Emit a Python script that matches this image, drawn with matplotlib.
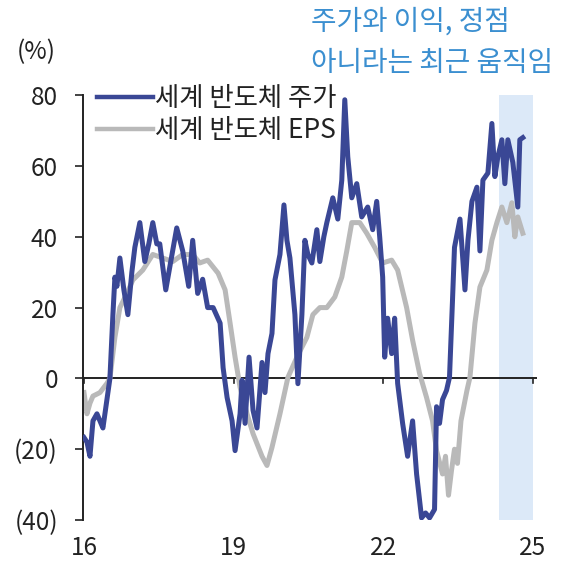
import matplotlib
matplotlib.use("Agg")
import matplotlib.pyplot as plt
from matplotlib.lines import Line2D

plt.rcParams['font.family'] = ['Noto Sans CJK KR', 'DejaVu Sans']

# World semiconductor stock index, YoY (%)
price_t = [2016.00, 2016.06, 2016.12, 2016.18, 2016.26, 2016.32, 2016.38, 2016.48, 2016.52,
           2016.58, 2016.62, 2016.66, 2016.72, 2016.80, 2016.88, 2016.96, 2017.02, 2017.12,
           2017.22, 2017.30, 2017.38, 2017.46, 2017.52, 2017.64, 2017.74, 2017.86, 2017.98,
           2018.10, 2018.18, 2018.28, 2018.38, 2018.48, 2018.59, 2018.73, 2018.79, 2018.87,
           2018.97, 2019.03, 2019.13, 2019.17, 2019.23, 2019.31, 2019.39, 2019.47, 2019.57,
           2019.63, 2019.69, 2019.77, 2019.83, 2019.93, 2020.01, 2020.07, 2020.13, 2020.23,
           2020.29, 2020.37, 2020.43, 2020.49, 2020.57, 2020.67, 2020.73, 2020.81, 2020.87,
           2020.99, 2021.09, 2021.17, 2021.23, 2021.29, 2021.37, 2021.47, 2021.57, 2021.69,
           2021.79, 2021.87, 2021.93, 2021.99, 2022.03, 2022.09, 2022.17, 2022.23, 2022.29,
           2022.39, 2022.49, 2022.59, 2022.67, 2022.77, 2022.85, 2022.93, 2023.03, 2023.07,
           2023.13, 2023.19, 2023.27, 2023.33, 2023.39, 2023.43, 2023.54, 2023.64, 2023.70,
           2023.78, 2023.88, 2023.94, 2024.00, 2024.10, 2024.18, 2024.24, 2024.30, 2024.38,
           2024.44, 2024.50, 2024.60, 2024.70, 2024.74, 2024.80]
price_yoy = [-16.7, -18, -22, -12, -10, -12, -14, -4, 0,
             18, 28.6, 26, 34, 25, 18, 30, 37, 44,
             33, 38, 44, 38, 38, 25, 33, 42.5, 36,
             26, 39, 24, 28, 20, 20, 15.6, 3, -5.4,
             -12, -20.4, -10, -0.5, -12.7, 6, -9, -14, 4.5,
             -4, 7, 12.7, 27.8, 35, 49, 39, 34, 18,
             -1.5, 18, 39, 35, 32.6, 42, 33, 40, 44,
             51, 45, 56, 78.7, 62.6, 51, 55, 45.6, 48.4,
             42, 50, 40, 28.6, 6, 17, 7, 17, -1.4,
             -12.7, -22, -12, -27, -39.4, -38, -39.4, -37, -8,
             -12.7, -6, -3.4, 0.3, 22, 37, 45, 25, 39,
             50, 54, 36, 56, 58, 72, 57, 62.6, 67.4,
             55, 67.4, 61, 48.4, 67.4, 68]

# World semiconductor EPS, YoY (%)
eps_t = [2016.00, 2016.06, 2016.12, 2016.18, 2016.32, 2016.46, 2016.52, 2016.62, 2016.72,
         2016.86, 2016.98, 2017.18, 2017.38, 2017.58, 2017.78, 2017.98, 2018.18, 2018.32,
         2018.48, 2018.69, 2018.83, 2018.93, 2019.03, 2019.13, 2019.27, 2019.39, 2019.57,
         2019.67, 2019.77, 2019.93, 2020.09, 2020.27, 2020.47, 2020.59, 2020.73, 2020.87,
         2021.03, 2021.17, 2021.27, 2021.37, 2021.53, 2021.67, 2021.83, 2021.99, 2022.17,
         2022.29, 2022.47, 2022.59, 2022.73, 2022.87, 2022.99, 2023.07, 2023.19, 2023.25,
         2023.31, 2023.37, 2023.43, 2023.49, 2023.56, 2023.68, 2023.74, 2023.84, 2023.94,
         2024.08, 2024.18, 2024.28, 2024.38, 2024.48, 2024.58, 2024.64, 2024.70, 2024.80]
eps_yoy = [-4, -10, -7, -5, -4, -1.4, 0, 11.6, 20,
           24, 27.8, 30.6, 35, 34, 33, 35, 35, 32.6,
           33.4, 29.7, 25, 15.6, 6, -2.5, -10, -15.6, -22,
           -24.6, -19.5, -10, 0.3, 6, 11.6, 18, 20, 20,
           23, 28.6, 36, 44, 44, 41, 37, 32.6, 33.4,
           30.6, 20, 10.8, 1.4, -5.4, -12, -20.4, -27, -22,
           -33, -26, -20, -24, -12, -3.4, 0.3, 15.6, 25.8,
           30.6, 39, 44, 48.4, 44, 49.6, 40, 45.6, 41]

series_names = ['세계 반도체 주가', '세계 반도체 EPS']
highlight = (2024.32, 2025.0)
x_ticks = [2016, 2019, 2022, 2025]
x_labels = ['16', '19', '22', '25']
y_ticks = [-40, -20, 0, 20, 40, 60, 80]
y_labels = ['(40)', '(20)', '0', '20', '40', '60', '80']
note = '주가와 이익, 정점\n아니라는 최근 움직임'

BLUE = '#3a4795'
GRAY = '#b9b9b9'
TEXT = '#222222'

fig = plt.figure(figsize=(5.63, 5.65), dpi=100)
ax = fig.add_axes([0.1474, 0.0796, 0.806, 0.752])

ax.set_xlim(2015.98, 2025.08)
ax.set_ylim(-40, 80)

ax.axvspan(*highlight, color='#dce9f8', zorder=0, lw=0)
ax.axhline(0, color='#222222', lw=1.4, zorder=1)

ax.plot(eps_t, eps_yoy, color=GRAY, lw=3.6, zorder=2, solid_joinstyle='round')
ax.plot(price_t, price_yoy, color=BLUE, lw=3.6, zorder=3, solid_joinstyle='round')

# tick marks on the zero line for the x axis
for xt in x_ticks:
    ax.plot([xt, xt], [0, -1.4], color='#222222', lw=1.2, zorder=1, clip_on=False)

for s in ['top', 'right', 'bottom']:
    ax.spines[s].set_visible(False)
ax.spines['left'].set_linewidth(1.4)
ax.spines['left'].set_color('#222222')

ax.set_yticks(y_ticks)
ax.set_yticklabels(y_labels)
ax.set_xticks(x_ticks)
ax.set_xticklabels(x_labels)
ax.tick_params(axis='y', length=6, width=1.2, color='#222222', pad=12,
               labelsize=17.5, labelcolor=TEXT)
ax.tick_params(axis='x', length=0, pad=11, labelsize=17.5, labelcolor=TEXT)

handles = [Line2D([], [], color=BLUE, lw=3.2), Line2D([], [], color=GRAY, lw=3.2)]
ax.legend(handles, series_names, loc='upper left', bbox_to_anchor=(0.03, 1.024),
          frameon=False, fontsize=19, handlelength=2.15, handletextpad=0.05,
          labelspacing=0.2, borderpad=0, borderaxespad=0, labelcolor=TEXT)

fig.text(0.03, 0.908, '(%)', fontsize=17.5, color=TEXT, ha='left', va='center')
fig.text(0.553, 0.988, note, fontsize=20, color='#3b8fd0', ha='left', va='top',
         linespacing=1.5)

fig.savefig('out.png', dpi=100)
